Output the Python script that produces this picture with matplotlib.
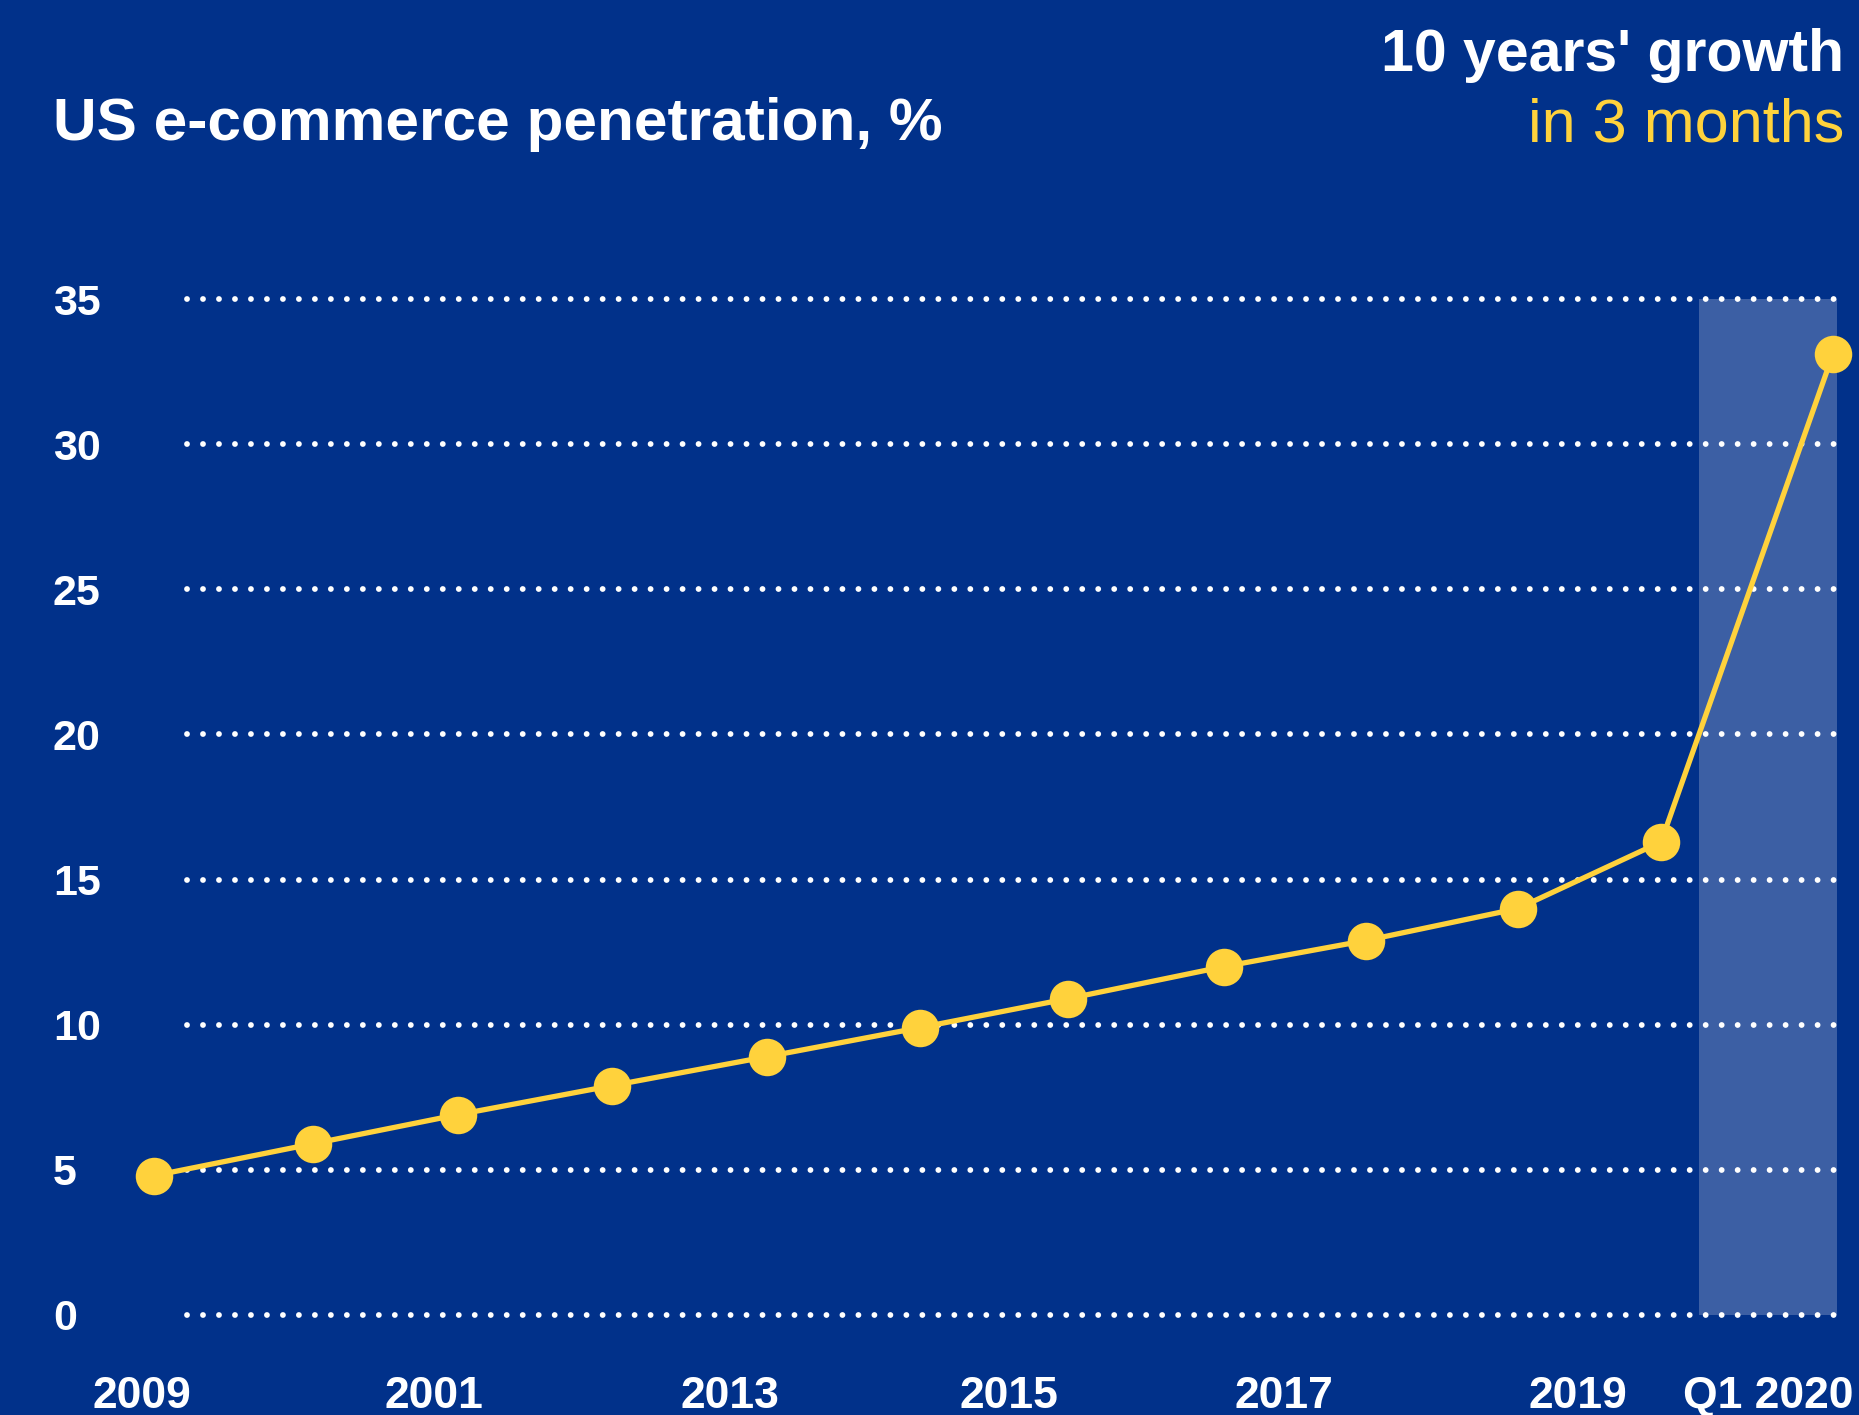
import matplotlib
matplotlib.use("Agg")
import matplotlib.pyplot as plt

# Data
x_pos = [0, 1.054, 2.014, 3.037, 4.067, 5.082, 6.066, 7.097, 8.041, 9.048, 10.0, 11.14]
values = [4.8, 5.9, 6.9, 7.9, 8.9, 9.9, 10.9, 12.0, 12.9, 14.0, 16.3, 33.1]
y_ticks = [0, 5, 10, 15, 20, 25, 30, 35]
x_label_pos = [-0.08, 1.86, 3.82, 5.67, 7.50, 9.45, 10.71]
x_labels = ["2009", "2001", "2013", "2015", "2017", "2019", "Q1 2020"]
shade_x = [10.25, 11.165]

# Colors
bg = "#01318A"
yellow = "#FFD23C"
shade = "#3C5FA4"

plt.rcParams["font.family"] = ["Liberation Sans", "DejaVu Sans"]
plt.rcParams["lines.scale_dashes"] = False

W, H = 1859, 1415
fig = plt.figure(figsize=(W / 100, H / 100), dpi=100, facecolor=bg)

# axes placed in pixels
left_px, right_px, top_px, bottom_px = 53, 1859, 299, 1315
ax = fig.add_axes([left_px / W, 1 - bottom_px / H,
                   (right_px - left_px) / W, (bottom_px - top_px) / H])
ax.set_facecolor(bg)
ax.patch.set_alpha(0)
ax.set_xlim(-0.671, 11.313)
ax.set_ylim(0, 35)
for s in ax.spines.values():
    s.set_visible(False)

# shaded Q1 2020 band
ax.fill_between(shade_x, 0, 35, color=shade, lw=0, zorder=1)

# dotted gridlines
ax.hlines(y_ticks, 0.218, 11.17, colors="white", linewidth=4.2,
          linestyles=[(0, (0.01, 11.5))], capstyle="round",
          zorder=2, clip_on=False)

# line with markers
ax.plot(x_pos, values, color=yellow, lw=3.8, marker="o", markersize=27,
        markeredgewidth=0, zorder=3, clip_on=False)

# y labels
ax.set_yticks(y_ticks)
ax.set_yticklabels([str(t) for t in y_ticks], fontsize=31, fontweight="bold",
                   color="white", ha="left")
ax.tick_params(axis="y", length=0, pad=0)

# x labels
ax.set_xticks(x_label_pos)
ax.set_xticklabels(x_labels, fontsize=32, fontweight="bold", color="white")
ax.tick_params(axis="x", length=0, pad=44)

# titles
fig.text(53 / W, 1 - 140 / H, "US e-commerce penetration, %", fontsize=43.5,
         fontweight="bold", color="white", ha="left", va="baseline")
fig.text(1844 / W, 1 - 71 / H, "10 years' growth", fontsize=42.5,
         fontweight="bold", color="white", ha="right", va="baseline")
fig.text(1844 / W, 1 - 142 / H, "in 3 months", fontsize=44,
         color=yellow, ha="right", va="baseline")

fig.savefig("out.png", dpi=100, facecolor=bg)
